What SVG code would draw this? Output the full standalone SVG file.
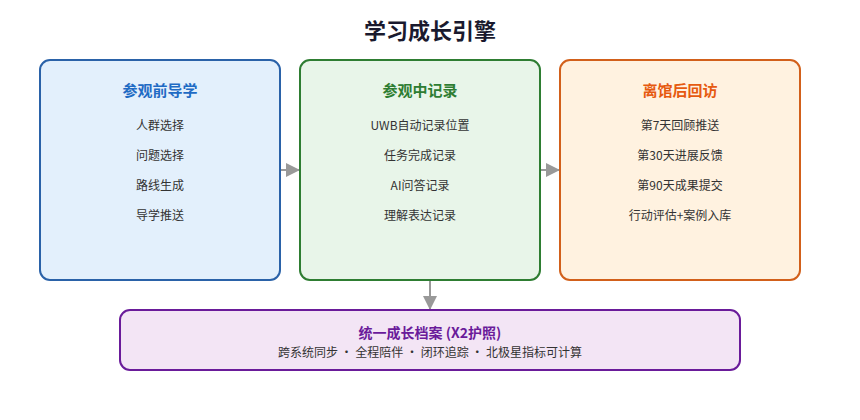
<svg xmlns="http://www.w3.org/2000/svg" width="860" height="420" viewBox="0 0 860 420">
<style>
text{font-family:"Noto Sans CJK SC","Noto Sans",sans-serif;text-anchor:middle}
.title{font-size:22px;font-weight:bold;fill:#1a1a2e}
.h{font-size:15px;font-weight:bold}
.it{font-size:12px;fill:#333}
.box{stroke-width:2}
.conn{stroke:#999;stroke-width:2;fill:none}
</style>
<defs>
<marker id="ah" viewBox="0 0 10 10" refX="10" refY="5" markerWidth="6.5" markerHeight="8" markerUnits="userSpaceOnUse" orient="auto">
<path d="M0,0 L10,5 L0,10 z" fill="#999"/>
</marker>
<marker id="ahb" viewBox="0 0 10 10" refX="10" refY="5" markerWidth="14" markerHeight="16" markerUnits="userSpaceOnUse" orient="auto">
<path d="M0,0 L10,5 L0,10 z" fill="#999"/>
</marker>
</defs>
<rect width="860" height="420" fill="#fff"/>
<text class="title" x="430" y="39">学习成长引擎</text>
<g id="connectors">
<line class="conn" x1="280" y1="170" x2="300" y2="170" marker-end="url(#ahb)"/>
<line class="conn" x1="540" y1="170" x2="560" y2="170" marker-end="url(#ahb)"/>
<line class="conn" x1="430" y1="280" x2="430" y2="310" marker-end="url(#ahb)"/>
</g>
<g id="pre">
<rect class="box" x="40" y="60" width="240" height="220" rx="10" fill="#e3f0fc" stroke="#2a62a8"/>
<text class="h" x="160" y="96" fill="#1f6bc4">参观前导学</text>
<text class="it" x="160" y="130">人群选择</text>
<text class="it" x="160" y="160">问题选择</text>
<text class="it" x="160" y="190">路线生成</text>
<text class="it" x="160" y="220">导学推送</text>
</g>
<g id="during">
<rect class="box" x="300" y="60" width="240" height="220" rx="10" fill="#e8f5e9" stroke="#2e7d32"/>
<text class="h" x="420" y="96" fill="#2e7d32">参观中记录</text>
<text class="it" x="420" y="130">UWB自动记录位置</text>
<text class="it" x="420" y="160">任务完成记录</text>
<text class="it" x="420" y="190">AI问答记录</text>
<text class="it" x="420" y="220">理解表达记录</text>
</g>
<g id="post">
<rect class="box" x="560" y="60" width="240" height="220" rx="10" fill="#fff2e0" stroke="#d2601a"/>
<text class="h" x="680" y="96" fill="#e65a10">离馆后回访</text>
<text class="it" x="680" y="130">第7天回顾推送</text>
<text class="it" x="680" y="160">第30天进展反馈</text>
<text class="it" x="680" y="190">第90天成果提交</text>
<text class="it" x="680" y="220">行动评估+案例入库</text>
</g>
<g id="profile">
<rect class="box" x="120" y="310" width="620" height="60" rx="10" fill="#f3e5f5" stroke="#6a1b9a"/>
<text x="430" y="338" font-size="14" font-weight="bold" fill="#6a1b9a">统一成长档案 (X2护照)</text>
<text class="it" x="430" y="357">跨系统同步 · 全程陪伴 · 闭环追踪 · 北极星指标可计算</text>
</g>
</svg>
